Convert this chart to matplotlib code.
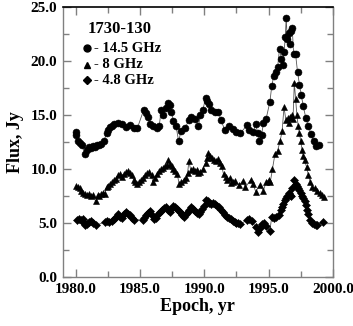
import matplotlib.pyplot as plt
from matplotlib.ticker import MultipleLocator, FormatStrFormatter

# --- data (1730-130 light curves) ---
t_145 = [1980.0, 1980.05, 1980.2, 1980.35, 1980.5, 1980.7, 1980.9, 1981.05, 1981.2, 1981.35, 1981.5,
         1981.65, 1981.8, 1982.0, 1982.2, 1982.4, 1982.55, 1982.7, 1982.85, 1983.0, 1983.3, 1983.6,
         1983.9, 1984.2, 1984.5, 1984.8, 1985.3, 1985.45, 1985.6, 1985.8, 1986.0, 1986.3, 1986.5,
         1986.65, 1986.8, 1987.0, 1987.15, 1987.3, 1987.45, 1987.6, 1987.8, 1988.0, 1988.2, 1988.5,
         1988.8, 1989.0, 1989.3, 1989.55, 1989.7, 1989.9, 1990.1, 1990.2, 1990.35, 1990.5, 1990.8,
         1991.1, 1991.3, 1991.6, 1991.9, 1992.2, 1992.5, 1992.8, 1993.35, 1993.5, 1993.8, 1994.0,
         1994.15, 1994.25, 1994.45, 1994.6, 1994.8, 1995.1, 1995.25, 1995.4, 1995.55, 1995.7,
         1995.85, 1996.0, 1996.1, 1996.2, 1996.3, 1996.37, 1996.45, 1996.55, 1996.65, 1996.75,
         1996.84, 1996.95, 1997.1, 1997.25, 1997.4, 1997.55, 1997.7, 1997.9, 1998.1, 1998.3,
         1998.5, 1998.7, 1998.9]
f_145 = [13.4, 13.1, 12.6, 12.4, 12.2, 11.4, 11.8, 12.0, 11.9, 12.1, 12.0,
         12.2, 12.2, 12.3, 12.6, 13.3, 13.6, 13.9, 14.0, 14.2, 14.3, 14.2,
         13.9, 14.1, 13.8, 13.8, 15.5, 15.2, 14.8, 14.2, 14.0, 13.8, 14.0,
         15.5, 15.0, 15.6, 16.1, 15.9, 15.3, 14.4, 14.0, 12.6, 13.5, 13.8,
         14.5, 14.8, 14.6, 14.0, 15.0, 15.5, 16.6, 16.3, 16.0, 15.5, 15.3,
         15.3, 14.5, 13.6, 14.0, 13.7, 13.4, 13.3, 14.1, 13.6, 13.4, 14.2,
         13.3, 12.6, 13.1, 14.3, 14.6, 16.2, 17.7, 18.6, 19.0, 19.4,
         21.1, 20.2, 19.6, 20.8, 22.2, 24.0, 22.0, 22.6, 21.6, 22.8,
         23.0, 20.6, 20.6, 19.0, 17.8, 16.8, 15.8, 14.7, 14.0, 13.2,
         12.6, 12.1, 12.2]

t_8 = [1980.0, 1980.15, 1980.3, 1980.45, 1980.6, 1980.75, 1980.9, 1981.05, 1981.2, 1981.35, 1981.55,
       1981.7, 1981.85, 1982.0, 1982.1, 1982.25, 1982.4, 1982.55, 1982.7, 1982.85, 1983.0, 1983.15,
       1983.3, 1983.45, 1983.6, 1983.75, 1983.9, 1984.05, 1984.2, 1984.35, 1984.5, 1984.65, 1984.8,
       1984.95, 1985.1, 1985.25, 1985.4, 1985.55, 1985.7, 1985.9, 1986.0, 1986.2, 1986.35, 1986.5,
       1986.65, 1986.8, 1986.95, 1987.1, 1987.2, 1987.36, 1987.5, 1987.6, 1987.75, 1987.9, 1988.05,
       1988.2, 1988.4, 1988.55, 1988.7, 1988.8, 1988.95, 1989.1, 1989.25, 1989.4, 1989.55, 1989.7,
       1989.9, 1990.1, 1990.2, 1990.3, 1990.45, 1990.6, 1990.75, 1990.9, 1991.05, 1991.2, 1991.35,
       1991.5, 1991.65, 1991.8, 1992.0, 1992.1, 1992.25, 1992.4, 1992.7, 1993.0, 1993.2, 1993.6,
       1993.8, 1994.0, 1994.3, 1994.6, 1994.8, 1995.0, 1995.13, 1995.3, 1995.5, 1995.7, 1995.9,
       1996.05, 1996.2, 1996.35, 1996.5, 1996.6, 1996.7, 1996.8, 1996.9, 1997.0, 1997.1, 1997.2,
       1997.3, 1997.4, 1997.5, 1997.6, 1997.7, 1997.8, 1997.95, 1998.1, 1998.25, 1998.4, 1998.6,
       1998.8, 1999.0, 1999.15, 1999.3]
f_8 = [8.4, 8.3, 8.2, 8.0, 7.8, 7.7, 7.6, 7.7, 7.5, 7.6, 7.0,
       7.6, 7.5, 7.7, 7.8, 7.7, 8.3, 8.4, 8.6, 8.8, 9.0, 9.1,
       9.4, 9.5, 9.3, 9.5, 9.7, 9.8, 9.6, 9.4, 9.0, 8.8, 8.6,
       8.8, 9.0, 9.2, 9.4, 9.6, 9.7, 9.4, 8.76, 9.2, 9.5, 9.8,
       10.0, 10.1, 10.3, 10.4, 10.8, 10.5, 10.3, 10.0, 9.8, 9.5, 8.6,
       8.8, 9.0, 9.2, 9.6, 10.7, 9.9, 10.0, 9.8, 9.9, 9.6, 9.7,
       10.0, 10.6, 11.0, 11.5, 11.2, 11.0, 10.8, 10.7, 10.9, 10.6, 10.3,
       9.5, 9.3, 9.0, 9.2, 8.7, 8.8, 8.9, 8.5, 8.9, 8.3, 9.0,
       8.6, 7.9, 8.5, 8.0, 8.8, 9.0, 8.77, 10.0, 11.4, 11.7, 12.6,
       13.5, 15.7, 14.5, 14.7, 14.3, 14.8, 15.0, 14.6, 18.0, 16.5, 15.0,
       14.0, 13.3, 12.6, 11.8, 11.2, 10.8, 10.2, 9.4, 8.8, 8.3, 8.2,
       8.0, 7.8, 7.6, 7.4]

t_48 = [1980.1, 1980.25, 1980.4, 1980.55, 1980.65, 1980.75, 1980.9, 1981.05, 1981.2, 1981.35, 1981.6,
        1982.3, 1982.45, 1982.6, 1982.8, 1983.0, 1983.15, 1983.3, 1983.45, 1983.6, 1983.75, 1983.9,
        1984.05, 1984.2, 1984.35, 1984.5, 1985.2, 1985.35, 1985.5, 1985.65, 1985.8, 1985.95, 1986.1,
        1986.25, 1986.4, 1986.55, 1986.7, 1986.85, 1987.0, 1987.15, 1987.3, 1987.45, 1987.6, 1987.75,
        1987.9, 1988.05, 1988.2, 1988.3, 1988.4, 1988.55, 1988.7, 1988.85, 1989.0, 1989.15, 1989.3,
        1989.45, 1989.6, 1989.7, 1989.85, 1990.0, 1990.1, 1990.25, 1990.4, 1990.55, 1990.7, 1990.85,
        1991.0, 1991.15, 1991.3, 1991.45, 1991.6, 1991.75, 1991.9, 1992.05, 1992.2, 1992.35, 1992.5,
        1992.65, 1992.8, 1993.35, 1993.5, 1993.7, 1994.0, 1994.2, 1994.35, 1994.5, 1994.65, 1994.8,
        1995.1, 1995.25, 1995.4, 1995.6, 1995.8, 1995.95, 1996.05, 1996.15, 1996.25, 1996.35,
        1996.45, 1996.55, 1996.65, 1996.75, 1996.85, 1997.0, 1997.1, 1997.2, 1997.3, 1997.4,
        1997.5, 1997.6, 1997.7, 1997.8, 1997.9, 1998.0, 1998.1, 1998.2, 1998.35, 1998.5, 1998.65,
        1998.8, 1999.2]
f_48 = [5.3, 5.4, 5.3, 5.4, 5.0, 4.8, 4.9, 5.1, 5.2, 5.0, 4.8,
        5.1, 5.2, 5.1, 5.2, 5.4, 5.6, 5.8, 5.6, 5.5, 5.8, 6.0,
        5.8, 5.7, 5.5, 5.3, 5.3, 5.5, 5.7, 5.9, 6.1, 5.7, 5.4,
        5.5, 5.8, 6.0, 6.2, 6.4, 6.5, 6.2, 6.0, 6.3, 6.6, 6.5,
        6.3, 6.1, 5.9, 5.7, 5.6, 5.8, 6.0, 6.2, 6.5, 6.3, 6.1,
        5.9, 5.8, 6.0, 6.3, 6.6, 7.1, 7.0, 6.9, 6.8, 6.9, 6.8,
        6.6, 6.5, 6.2, 6.0, 5.7, 5.6, 5.5, 5.4, 5.2, 5.1, 5.0,
        5.0, 4.9, 5.3, 5.4, 5.2, 4.6, 4.2, 4.5, 4.9, 5.0, 4.7,
        4.3, 5.6, 5.5, 5.6, 5.7, 6.2, 6.5, 6.8, 7.1, 7.3,
        7.5, 7.8, 7.6, 7.5, 8.2, 9.0, 8.6, 8.4, 8.2, 8.1,
        7.8, 7.5, 7.3, 7.0, 6.7, 6.2, 5.8, 5.3, 5.0, 4.9, 4.8,
        4.8, 5.1]

plt.rcParams['font.family'] = ['Liberation Serif', 'DejaVu Serif']
plt.rcParams['font.weight'] = 'bold'

fig = plt.figure(figsize=(3.53, 3.26), dpi=100)
ax = fig.add_axes([0.178, 0.150, 0.765, 0.829])

line_kw = dict(color='#555555', linewidth=0.6, markerfacecolor='black',
               markeredgecolor='black', markeredgewidth=0.4)
ax.plot(t_145, f_145, marker='o', markersize=5.0, **line_kw)
ax.plot(t_8, f_8, marker='^', markersize=5.0, **line_kw)
ax.plot(t_48, f_48, marker='D', markersize=4.3, **line_kw)

ax.set_xlim(1979, 2000)
ax.set_ylim(0, 25)

ax.xaxis.set_major_locator(MultipleLocator(5))
ax.xaxis.set_minor_locator(MultipleLocator(2.5))
ax.yaxis.set_major_locator(MultipleLocator(5))
ax.yaxis.set_minor_locator(MultipleLocator(2.5))
ax.xaxis.set_major_formatter(FormatStrFormatter('%.1f'))
ax.yaxis.set_major_formatter(FormatStrFormatter('%.1f'))

ax.tick_params(which='both', direction='in', top=True, right=True,
               color='#808080', width=1, labelsize=11, pad=4)
ax.tick_params(which='major', length=6)
ax.tick_params(which='minor', length=4)

for side in ['left', 'right', 'bottom']:
    ax.spines[side].set_color('#808080')
    ax.spines[side].set_linewidth(1)
ax.spines['top'].set_color('black')
ax.spines['top'].set_linewidth(1.2)

ax.set_xlabel('Epoch, yr', fontsize=13, fontweight='bold', labelpad=2)
ax.set_ylabel('Flux, Jy', fontsize=13, fontweight='bold', labelpad=5)

# legend drawn as text, like the original
ax.text(0.09, 0.919, '1730-130', transform=ax.transAxes, fontsize=12,
        fontweight='bold', va='center', ha='left')
rows = [('o', '- 14.5 GHz', 0.846), ('^', '- 8 GHz', 0.786), ('D', '- 4.8 GHz', 0.728)]
for mk, lab, yy in rows:
    ax.plot([0.088], [yy], marker=mk, color='black', markersize=5 if mk != 'D' else 4.3,
            transform=ax.transAxes, linestyle='None')
    ax.text(0.116, yy, lab, transform=ax.transAxes, fontsize=10.5,
            fontweight='bold', va='center', ha='left')

plt.savefig('out.png', dpi=100)
